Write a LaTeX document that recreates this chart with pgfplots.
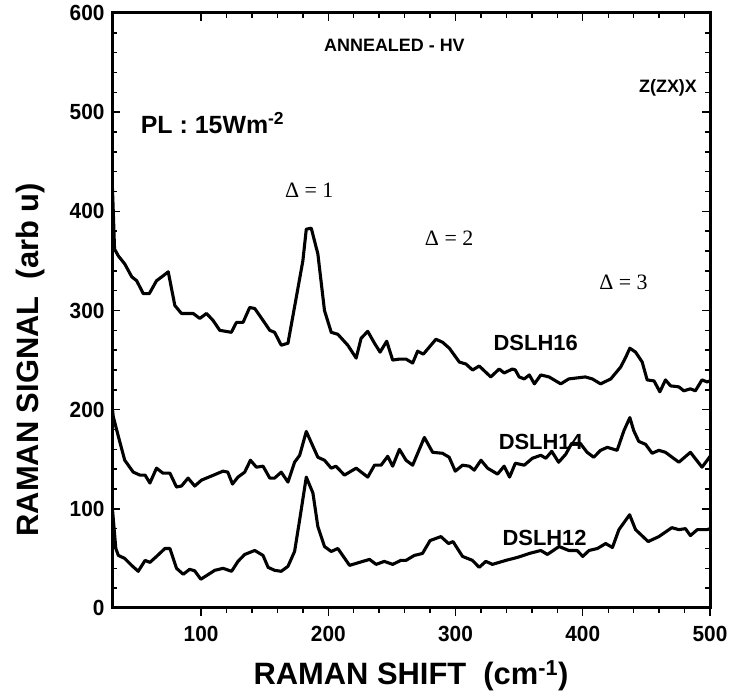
\documentclass[border=0pt]{standalone}
\usepackage{fontspec}
\setmainfont{Liberation Sans}
\newfontfamily\cond{Liberation Sans}[FakeStretch=0.95]
\newfontfamily\tnr{Liberation Serif}
\usepackage{pgfplots}
\pgfplotsset{compat=1.18}
\begin{document}
\begin{tikzpicture}
\pgfplotsset{
  common/.style={
    scale only axis, width=598bp, height=595bp,
    xmin=30, xmax=500, ymin=0, ymax=600,
    xtick={100,200,300,400,500}, ytick={0,100,200,300,400,500,600},
    minor x tick num=4, minor y tick num=4,
    major tick length=8bp, minor tick length=5bp,
    axis line style={line width=3bp},
    tick style={line width=1.4bp, black},
    /pgf/number format/assume math mode=true,
    ticklabel style={font=\cond\bfseries\fontsize{22}{22}\selectfont},
  }
}
\begin{axis}[common, name=main,
  tick align=inside,
  xtick pos=right, xticklabels={},
  ytick pos=both, yticklabel pos=left,
  yticklabel style={xshift=-4bp},
  ylabel={RAMAN SIGNAL\ \ (arb u)},
  ylabel style={at={(axis description cs:-0.137,0.417)}, anchor=center, font=\bfseries\fontsize{31}{31}\selectfont},
  xlabel={RAMAN SHIFT\ \ (cm\textsuperscript{-1})},
  xlabel style={at={(axis description cs:0.5,0)}, anchor=center, yshift=-68bp, font=\bfseries\fontsize{31}{31}\selectfont},
  every axis plot/.append style={line width=3.1bp, black, line join=round},
  clip=true,
]
\addplot[black] coordinates {(30,435)(31,400)(32,362)(35,355)(40,347)(45.5,334)(49.4,330)(54.6,317)(59.3,317)(65,330)(70.2,335)(74.2,339)(79.4,305)(84.6,297)(93.8,297)(99,292)(104.3,297)(109.4,290)(114.7,280)(123.8,278)(127.8,288)(133,288)(138.2,303)(142.2,302)(148.7,290)(154,280)(157.8,278)(163,265)(168.3,267)(174.8,313)(180,350)(182.7,382)(186.6,383)(191.8,357)(197,300)(202.3,278)(207.5,276)(215.3,265)(221.9,252)(225.8,272)(231,279)(236.3,267)(240.7,258)(245.9,269)(250.6,250)(255.9,251)(261.1,251)(266.3,247)(270.2,259)(274.7,256)(284.6,271)(289.8,268)(295.1,262)(303,248)(308.2,246)(313.4,240)(318.6,244)(327.7,233)(334.3,241)(338.2,237)(344.7,241)(347,240)(350,233)(354,231)(358,235)(362,226)(367,235)(373.5,233)(382.7,226)(389,231)(402,233)(407.5,231)(414,226)(422,231)(429.8,243)(433.8,253)(437,262)(441.5,258)(446.7,248)(450.6,230)(456,229)(460.6,218)(465,230)(469,224)(475.5,223)(479.4,219)(484.6,221)(488.5,219)(493.7,230)(497.6,228)(500,229)};
\addplot[black] coordinates {(30,205)(31,193)(35,173)(40,149)(46.7,137)(52,134)(56,134)(59.8,126)(65,141)(70,136)(75.5,136)(80.7,122)(84.6,123)(89.8,131)(95,123)(100.4,129)(108,133)(117.3,138)(121,137)(124.7,125)(129,132)(134.3,137)(138.8,149)(143.5,142)(148.7,143)(154,131)(157.8,131)(163,137)(168.3,127)(173.5,147)(177.5,154)(182.7,178)(191.8,152)(197,149)(202.3,141)(206,143)(212.7,134)(221.9,141)(231,132)(236.3,144)(241.5,144)(246.7,153)(250.6,143)(255.9,160)(261.1,149)(266.3,144)(275.5,172)(282,157)(289.8,156)(295,152)(299.8,138)(305.5,144)(310.8,143)(314.7,139)(320,149)(325.2,141)(333,135)(338.2,143)(342.5,132)(347,146)(354,144)(360.4,151)(367,154)(371,151)(375.6,158)(381,147)(386.6,155)(391.3,166)(398,166)(403.4,157)(408.6,152)(414,159)(419.3,162)(427,159)(432.4,179)(437,192)(440,179)(444,168)(449.4,165)(454.5,156)(459.8,159)(465,157)(475.5,147)(484.6,157)(493.7,142)(499,151)(500,153)};
\addplot[black] coordinates {(30,105)(31,90)(33,60)(35,53)(40,50)(45.4,43)(50.6,37)(56,48)(59.8,46)(65,52)(71.6,60)(75.5,60)(80.7,40)(86,34)(91,39)(95,37.5)(99.8,29)(110.8,38)(117.3,40)(124,37)(129,47)(134.3,54)(142.2,58)(148.7,53)(152.7,41)(157.8,38)(163,37)(168.3,42)(173.5,57)(177.5,89)(182.7,132)(187.9,116)(191.8,82)(197,62)(202.3,57)(207.5,60)(216.7,43)(224.5,46)(232.4,49)(237.6,44)(244,47)(250.6,44)(257,48)(261,48)(267.6,53)(274,55)(280,68)(288.5,72)(294.5,65)(298,67)(305.5,52)(313.3,48)(318.6,41)(323.8,47)(329,44)(339.5,48)(348.6,51)(358,55)(367,58)(372.2,54)(381.4,62)(389,58)(395.6,58)(400,52)(404.9,58)(411.5,60)(418,65)(423.3,61)(428.4,79)(436.8,94)(441.5,79)(451.4,67)(459.8,72)(470,81)(475.5,79)(480.7,80)(484.6,73)(490,79)(497.6,79)(500,80)};
\node[font=\bfseries\fontsize{18}{18}\selectfont] at (axis cs:252,567) {ANNEALED - HV};
\node[font=\bfseries\fontsize{18}{18}\selectfont] at (axis cs:467,525) {Z(ZX)X};
\node[font=\bfseries\fontsize{25}{25}\selectfont] at (axis cs:109,489) {PL : 15Wm\textsuperscript{-2}};
\node[font=\tnr\fontsize{22}{22}\selectfont] at (axis cs:185,421) {Δ = 1};
\node[font=\tnr\fontsize{22}{22}\selectfont] at (axis cs:295,373) {Δ = 2};
\node[font=\tnr\fontsize{22}{22}\selectfont] at (axis cs:432,328) {Δ = 3};
\node[font=\bfseries\fontsize{22}{22}\selectfont] at (axis cs:363,267) {DSLH16};
\node[font=\bfseries\fontsize{22}{22}\selectfont] at (axis cs:367,167) {DSLH14};
\node[font=\bfseries\fontsize{22}{22}\selectfont] at (axis cs:370,71) {DSLH12};
\end{axis}
\begin{axis}[common,
  tick align=outside,
  xtick pos=left,
  hide y axis,
  axis x line*=bottom,
  xticklabel style={yshift=-7bp},
]
\end{axis}
\pgfresetboundingbox
\path[use as bounding box] ([xshift=-112bp,yshift=-90bp]main.south west) rectangle ([xshift=22bp,yshift=13bp]main.north east);
\end{tikzpicture}
\end{document}
